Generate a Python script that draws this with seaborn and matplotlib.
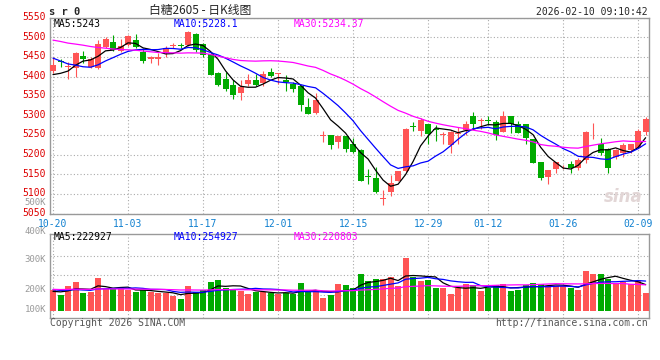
import numpy as np
import pandas as pd
import matplotlib
matplotlib.use('Agg')
import matplotlib.pyplot as plt
import matplotlib.transforms as mtrans
import seaborn as sns

# ---- daily bars, 2025-10-20 .. 2026-02-10 (80 sessions) ----
opens = [5414, 5440, 5425, 5421, 5453, 5425, 5421, 5476, 5489, 5465,
         5480, 5493, 5463, 5444, 5446, 5459, 5478, 5480, 5480, 5508,
         5482, 5457, 5408, 5394, 5379, 5357, 5381, 5391, 5384, 5411,
         5407, 5392, 5381, 5377, 5322, 5306, 5249, 5251, 5232, 5248,
         5228, 5213, 5144, 5141, 5088, 5105, 5134, 5160, 5274, 5262,
         5279, 5264, 5251, 5225, 5254, 5263, 5300, 5286, 5288, 5283,
         5259, 5299, 5278, 5279, 5240, 5183, 5144, 5164, 5168, 5177,
         5166, 5187, 5247, 5229, 5214, 5195, 5204, 5212, 5217, 5259]
closes = [5429, 5437, 5427, 5459, 5445, 5444, 5483, 5497, 5469, 5478,
          5503, 5476, 5440, 5449, 5450, 5474, 5480, 5478, 5514, 5469,
          5455, 5404, 5378, 5367, 5353, 5374, 5391, 5379, 5407, 5402,
          5408, 5385, 5367, 5328, 5305, 5340, 5250, 5225, 5248, 5215,
          5207, 5134, 5143, 5105, 5089, 5128, 5160, 5266, 5272, 5289,
          5253, 5263, 5253, 5259, 5255, 5280, 5278, 5287, 5286, 5251,
          5299, 5279, 5257, 5242, 5180, 5140, 5161, 5181, 5170, 5167,
          5187, 5259, 5248, 5204, 5166, 5212, 5225, 5229, 5262, 5291]
highs = [5451, 5444, 5438, 5463, 5466, 5449, 5493, 5502, 5506, 5497,
         5506, 5509, 5472, 5452, 5460, 5478, 5486, 5486, 5517, 5510,
         5485, 5459, 5412, 5411, 5390, 5390, 5407, 5407, 5415, 5421,
         5409, 5404, 5385, 5377, 5345, 5357, 5262, 5251, 5248, 5248,
         5243, 5215, 5164, 5168, 5109, 5149, 5160, 5268, 5283, 5293,
         5279, 5275, 5259, 5261, 5272, 5287, 5310, 5293, 5300, 5289,
         5313, 5299, 5286, 5279, 5240, 5183, 5161, 5183, 5174, 5184,
         5191, 5261, 5282, 5242, 5217, 5214, 5231, 5229, 5265, 5297]
lows = [5408, 5425, 5393, 5400, 5434, 5421, 5420, 5472, 5466, 5463,
        5478, 5472, 5434, 5434, 5430, 5451, 5474, 5472, 5478, 5463,
        5451, 5404, 5377, 5362, 5343, 5339, 5377, 5377, 5377, 5398,
        5381, 5362, 5360, 5311, 5305, 5305, 5234, 5215, 5217, 5208,
        5205, 5134, 5126, 5103, 5073, 5096, 5134, 5157, 5260, 5247,
        5228, 5236, 5229, 5204, 5229, 5251, 5265, 5265, 5276, 5238,
        5259, 5255, 5255, 5229, 5178, 5136, 5125, 5153, 5165, 5153,
        5161, 5178, 5240, 5200, 5154, 5189, 5195, 5204, 5217, 5251]
volumes = [177, 135, 214, 248, 155, 163, 281, 183, 183, 183,
           177, 163, 177, 163, 149, 149, 129, 101, 214, 160,
           177, 245, 262, 197, 183, 169, 143, 163, 163, 149,
           143, 155, 143, 236, 163, 177, 107, 134, 230, 218,
           195, 311, 251, 268, 268, 285, 212, 445, 288, 251,
           260, 195, 195, 145, 195, 232, 218, 167, 198, 218,
           226, 167, 181, 218, 237, 226, 209, 209, 209, 198,
           176, 336, 313, 313, 274, 232, 246, 232, 251, 153]  # thousand lots

# 29 sessions before the window, guessed so the MA lines start where the picture shows
prev_closes = [5540, 5552, 5535, 5528, 5546, 5560, 5548, 5532, 5519, 5525,
               5508, 5497, 5510, 5503, 5488, 5495, 5502, 5490, 5478, 5464,
               5510, 5502, 5490, 5486, 5457, 5421, 5398, 5385, 5392]
prev_volumes = [190, 178, 185, 196, 172, 181, 188, 175, 192, 186,
                179, 183, 195, 170, 188, 184, 177, 191, 186, 194,
                201, 188, 197, 190, 194, 158, 171, 160, 164]

tick_pos = [0, 10, 20, 30, 40, 50, 58, 68, 78]
tick_labels = ['10-20', '11-03', '11-17', '12-01', '12-15', '12-29', '01-12', '01-26', '02-09']

ma_names = ['MA5', 'MA10', 'MA30']
ma_windows = [5, 10, 30]
ma_price_text = ['5243', '5228.1', '5234.37']
ma_vol_text = ['222927', '254927', '220803']
ma_colors = ['black', '#0000ff', '#ff00ff']

RED = '#ff5555'
GREEN = '#00aa00'
GRID = '#aaaaaa'

sns.set_style('white')
plt.rcParams['font.family'] = ['DejaVu Sans Mono', 'Noto Sans CJK SC']
plt.rcParams['axes.edgecolor'] = '#999999'
plt.rcParams['axes.linewidth'] = 1.0

W, H = 660, 360
fig = plt.figure(figsize=(6.6, 3.6), dpi=100)
def fx(px): return px / W
def fy(py): return 1 - py / H

ax1 = fig.add_axes([fx(50), fy(213.6), 599 / W, 195.8 / H])
ax2 = fig.add_axes([fx(50), fy(318), 599 / W, 84 / H])

n = len(closes)
x = np.arange(n)
o = np.array(opens); c = np.array(closes)
cols = np.where(c >= o, RED, GREEN)

# ---- price panel ----
ax1.vlines(x, lows, highs, colors=cols, lw=0.8, zorder=3)
ax1.bar(x, np.maximum(np.abs(c - o), 2.0), bottom=np.minimum(o, c),
        width=0.8, color=cols, lw=0, zorder=3)

all_c = pd.Series(prev_closes + closes, dtype=float)
for name, w, col in zip(ma_names, ma_windows, ma_colors):
    ma = all_c.rolling(w).mean().to_numpy()[-n:]
    sns.lineplot(x=x, y=ma, ax=ax1, color=col, lw=0.9, legend=False, zorder=4)

ax1.set_xlim(-0.4, n - 0.55)
ax1.set_ylim(5050, 5550)
ax1.set_yticks(range(5050, 5551, 50))
ax1.set_xticks(tick_pos)
ax1.set_xticklabels(tick_labels)
ax1.tick_params(axis='y', length=0, pad=3, labelsize=7, labelcolor='#dd0000')
ax1.tick_params(axis='x', length=0, pad=4, labelsize=7, labelcolor='#1080d0')
ax1.grid(True, color=GRID, ls=(0, (1, 2)), lw=0.8)
ax1.set_xlabel(''); ax1.set_ylabel('')
# price labels sit a little above their grid lines, as on the site
up_shift = mtrans.ScaledTranslation(0, 1.8 / 100, fig.dpi_scale_trans)
for lab in ax1.get_yticklabels():
    lab.set_transform(lab.get_transform() + up_shift)

for k, (name, txt, col) in enumerate(zip(ma_names, ma_price_text, ma_colors)):
    fig.text(fx(54 + 120 * k), fy(24), f'{name}:{txt}', color=col, fontsize=7,
             ha='left', va='center')

ax1.text(0.99, 0.04, 'sina', transform=ax1.transAxes, ha='right', va='bottom',
         fontsize=12, color='#e2d6d6', fontweight='bold', style='italic',
         family='DejaVu Sans', zorder=1)

# ---- volume panel ----
v = np.array(volumes) * 1000
ax2.bar(x, v, width=0.8, color=cols, lw=0, zorder=3)
all_v = pd.Series(prev_volumes + volumes, dtype=float) * 1000
for name, w, col in zip(ma_names, ma_windows, ma_colors):
    ma = all_v.rolling(w).mean().to_numpy()[-n:]
    sns.lineplot(x=x, y=ma, ax=ax2, color=col, lw=0.9, legend=False, zorder=4)

lo, hi = -59000, 650000
ax2.set_xlim(-0.4, n - 0.55)
ax2.set_ylim(lo, hi)
ax2.set_yticks([lo + f * (hi - lo) for f in (0.274, 0.512, 0.738)])
ax2.set_yticklabels([])
ax2.set_xticks(tick_pos)
ax2.set_xticklabels([])
ax2.tick_params(length=0)
ax2.grid(True, color=GRID, ls=(0, (1, 2)), lw=0.8)
ax2.set_xlabel(''); ax2.set_ylabel('')

for k, (name, txt, col) in enumerate(zip(ma_names, ma_vol_text, ma_colors)):
    fig.text(fx(54 + 120 * k), fy(237.5), f'{name}:{txt}', color=col, fontsize=7,
             ha='left', va='center')

for lab, py in zip(['500K', '400K', '300K', '200K', '100K'], [202.5, 231.5, 260, 290, 310]):
    fig.text(fx(46), fy(py), lab, color='#999999', fontsize=6.5, ha='right', va='center')

# ---- header / footer ----
fig.text(fx(49), fy(12), 's r 0', fontsize=7.5, fontweight='bold', ha='left', va='center')
fig.text(fx(200), fy(10.5), '白糖2605 - 日K线图', fontsize=8.5, ha='center', va='center',
         family=['Noto Sans CJK SC', 'DejaVu Sans'])
fig.text(fx(648), fy(12), '2026-02-10 09:10:42', fontsize=7, ha='right', va='center')
fig.text(fx(50), fy(323.5), 'Copyright 2026 SINA.COM', fontsize=7, color='#555555',
         ha='left', va='center')
fig.text(fx(648), fy(323.5), 'http://finance.sina.com.cn', fontsize=7, color='#555555',
         ha='right', va='center')

fig.savefig('out.png', dpi=100, facecolor='white')
